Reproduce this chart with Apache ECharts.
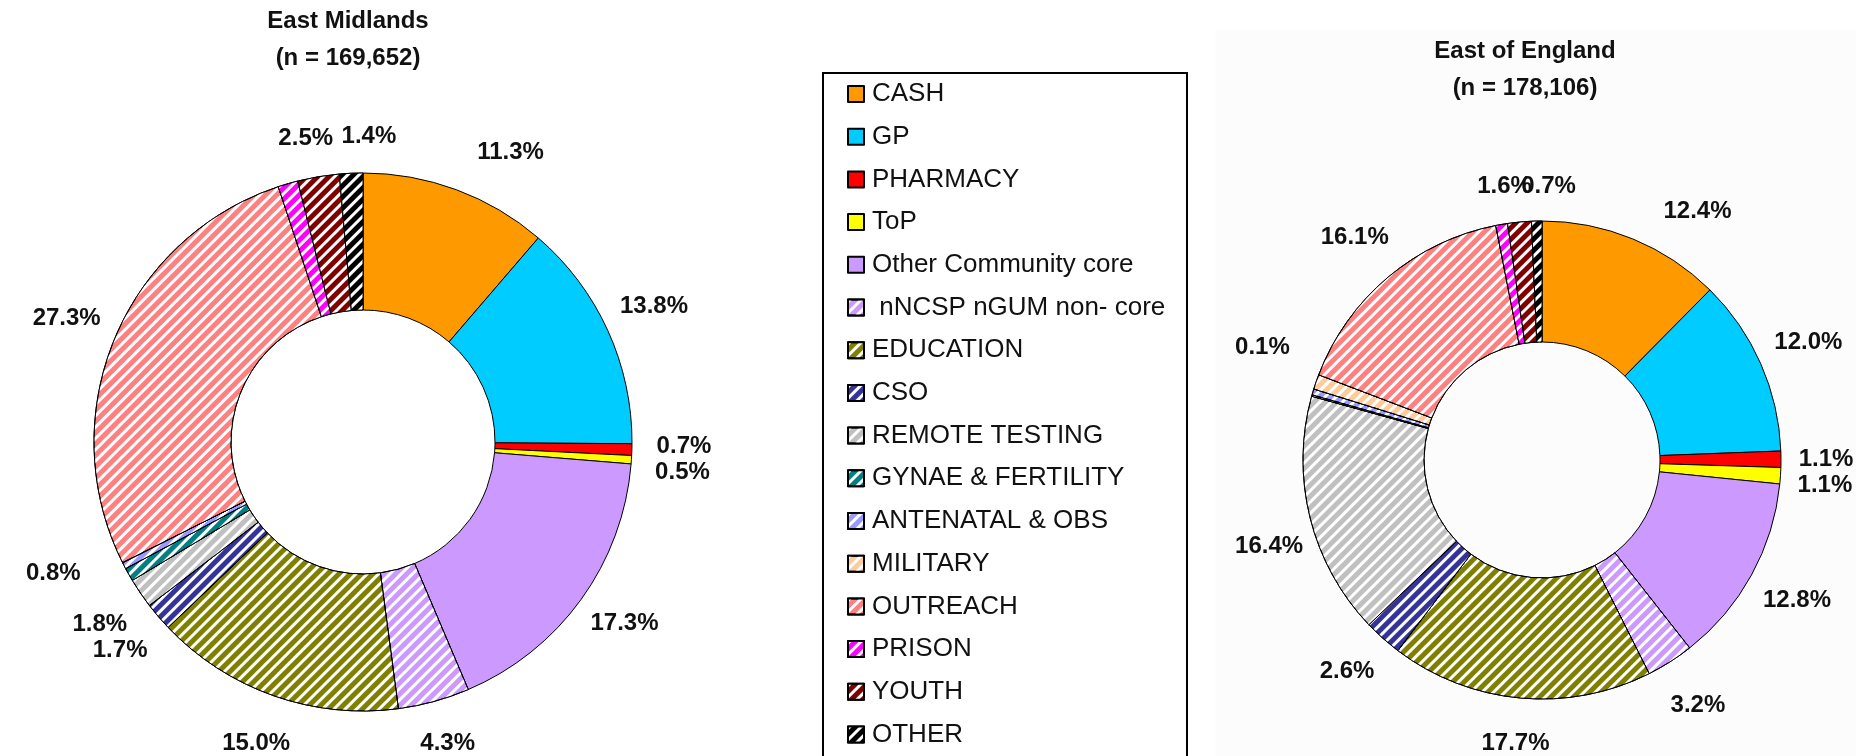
<!DOCTYPE html>
<html>
<head>
<meta charset="utf-8">
<script src="https://cdn.jsdelivr.net/npm/echarts@6/dist/echarts.min.js"></script>
<style>
  html, body { margin: 0; padding: 0; background: #fff; }
  #main { width: 1856px; height: 756px; }
</style>
</head>
<body>
<div id="main"></div>
<script>
var categories = [
  "CASH", "GP", "PHARMACY", "ToP", "Other Community core", " nNCSP nGUM non- core",
  "EDUCATION", "CSO", "REMOTE TESTING", "GYNAE & FERTILITY", "ANTENATAL & OBS",
  "MILITARY", "OUTREACH", "PRISON", "YOUTH", "OTHER"
];
// percentages
var eastMidlands = [11.3, 13.8, 0.7, 0.5, 17.3, 4.3, 15.0, 1.7, 1.8, 0.8, 0.4, 0, 27.3, 1.2, 2.5, 1.4];
var eastOfEngland = [12.4, 12.0, 1.1, 1.1, 12.8, 3.2, 17.7, 2.6, 16.4, 0.1, 0.4, 1.0, 16.1, 0.8, 1.6, 0.7];
var unlabelled = ["ANTENATAL & OBS", "MILITARY", "PRISON"];

var colors = [
  "#ff9900", "#00ccff", "#ff0000", "#ffff00", "#cc99ff", "#cc99ff",
  "#808000", "#333399", "#c0c0c0", "#008080", "#9999ff",
  "#ffcc99", "#ff8080", "#ff00ff", "#800000", "#000000"
];
var hatched = [false, false, false, false, false, true, true, true, true, true, true, true, true, true, true, true];

var hatch = {
  symbol: "rect",
  color: "#ffffff",
  dashArrayX: [1, 0],
  dashArrayY: [2.5, 4.5],
  rotation: -Math.PI / 4
};

// small hand nudges for the crowded labels (px), like the hand-placed ones in the original
var labelNudge = [
  { "CASH": [36, 11], "YOUTH": [70, -9], "OTHER": [20, 15], "GYNAE & FERTILITY": [-30, -25] },
  { "CASH": [45, 21], "YOUTH": [83, -9], "OTHER": [13, 17], "GYNAE & FERTILITY": [0, -32],
    "REMOTE TESTING": [10, 20], "PHARMACY": [-7, 0], "ToP": [-7, 0] }
];

function buildData(values) {
  return categories.map(function (name, i) {
    var style = { color: colors[i], borderColor: "#000", borderWidth: 1 };
    if (hatched[i]) style.decal = hatch;
    return {
      name: name,
      value: values[i],
      itemStyle: style,
      label: { show: unlabelled.indexOf(name) < 0 }
    };
  });
}

function pieSeries(values, center, radius, lineLen) {
  return {
    type: "pie",
    center: center,
    radius: radius,
    startAngle: 90,
    clockwise: true,
    animation: false,
    data: buildData(values),
    label: {
      position: "outside",
      formatter: function (p) { return p.value.toFixed(1) + "%"; },
      fontFamily: "Liberation Sans",
      fontWeight: "bold",
      fontSize: 24,
      color: "#111",
      overflow: "none",
      distanceToLabelLine: 0
    },
    labelLine: { show: false, length: lineLen, length2: 0 },
    labelLayout: function (params) {
      var n = labelNudge[params.seriesIndex][categories[params.dataIndex]] || [0, 0];
      return { align: "center", verticalAlign: "middle", dx: n[0], dy: n[1] };
    },
    emphasis: { disabled: true }
  };
}

var myChart = echarts.init(document.getElementById("main"));
var titleFont = {
  fontFamily: "Liberation Sans",
  fontWeight: "bold",
  fontSize: 24,
  color: "#111",
  lineHeight: 37
};
var option = {
  backgroundColor: "#ffffff",
  title: [
    { text: "East Midlands\n(n = 169,652)", left: 343, top: -2, textAlign: "center", textStyle: titleFont },
    { text: "East of England\n(n = 178,106)", left: 1520, top: 28, textAlign: "center", textStyle: titleFont }
  ],
  graphic: [
    { type: "rect", left: 1215, top: 30, shape: { width: 641, height: 726 }, style: { fill: "#fcfcfc" }, z: -10, silent: true },
    { type: "rect", left: 822, top: 72, shape: { width: 364, height: 700 }, style: { fill: "#fff", stroke: "#000", lineWidth: 2 }, z: -5, silent: true }
  ],
  legend: {
    orient: "vertical",
    left: 842,
    top: 76,
    itemWidth: 16,
    itemHeight: 16,
    itemGap: 16.7,
    icon: "rect",
    selectedMode: false,
    data: categories,
    textStyle: {
      fontFamily: "Liberation Sans",
      fontSize: 26,
      lineHeight: 26,
      color: "#111",
      padding: [0, 0, 0, 3]
    }
  },
  series: [
    pieSeries(eastMidlands, [363, 442], [132, 269], 52),
    pieSeries(eastOfEngland, [1542, 460], [118, 239], 52)
  ]
};
myChart.setOption(option);
</script>
</body>
</html>
